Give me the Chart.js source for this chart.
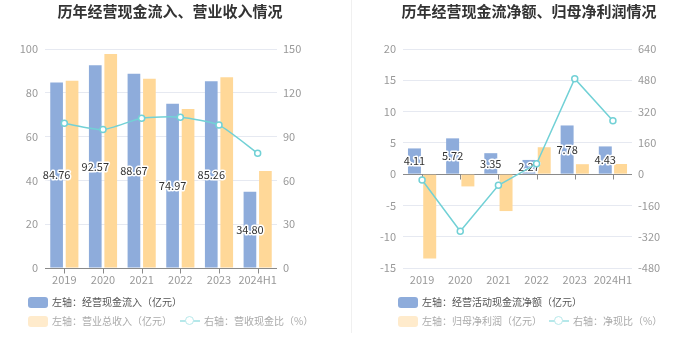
<!DOCTYPE html>
<html>
<head>
<meta charset="utf-8">
<script src="https://cdn.jsdelivr.net/npm/chart.js@4/dist/chart.umd.min.js"></script>
<style>
  body { margin: 0; background: #fff; font-family: 'Noto Sans CJK SC', sans-serif; }
  #wrap { position: relative; width: 699px; height: 359px; overflow: hidden; }
  canvas { position: absolute; top: 0; }
  .title { position: absolute; top: 1px; font-size: 15px; font-weight: bold; color: #333; white-space: nowrap; transform: translateX(-50%); line-height: 20px; }
  .sw { position: absolute; width: 20px; height: 11px; border-radius: 3px; }
  .txt { position: absolute; font-size: 10px; line-height: 14px; white-space: nowrap; }
  .ln { position: absolute; width: 20px; height: 10px; }
  .ln i { position: absolute; left: 0; right: 0; top: 4px; height: 2px; }
  .ln b { position: absolute; left: 5px; top: 0; width: 7px; height: 7px; border-radius: 50%; background: #fff; border-width: 1.5px; border-style: solid; }
  #divider { position: absolute; left: 351px; top: 0; width: 1px; height: 333px; background: #f0f0f0; }
</style>
</head>
<body>
<div id="wrap">
  <canvas id="c1" width="350" height="359" style="left:0"></canvas>
  <canvas id="c2" width="349" height="359" style="left:350px"></canvas>
  <div id="divider"></div>

  <div class="title" style="left:170px">历年经营现金流入、营业收入情况</div>
  <div class="title" style="left:529px">历年经营现金流净额、归母净利润情况</div>

  <!-- left legend -->
  <div class="sw" style="left:28px;top:297px;background:#8EACDB"></div>
  <div class="txt" style="left:52px;top:295px;color:#555">左轴：经营现金流入（亿元）</div>
  <div class="sw" style="left:28px;top:316px;background:#FFEBCC"></div>
  <div class="txt" style="left:52px;top:314px;color:#aaa">左轴：营业总收入（亿元）</div>
  <div class="ln" style="left:180px;top:316px"><i style="background:#B6E8EA"></i><b style="border-color:#B6E8EA"></b></div>
  <div class="txt" style="left:204px;top:314px;color:#aaa">右轴：营收现金比（%）</div>

  <!-- right legend -->
  <div class="sw" style="left:398px;top:297px;background:#8EACDB"></div>
  <div class="txt" style="left:422px;top:295px;color:#555">左轴：经营活动现金流净额（亿元）</div>
  <div class="sw" style="left:398px;top:316px;background:#FFEBCC"></div>
  <div class="txt" style="left:422px;top:314px;color:#aaa">左轴：归母净利润（亿元）</div>
  <div class="ln" style="left:549px;top:316px"><i style="background:#B6E8EA"></i><b style="border-color:#B6E8EA"></b></div>
  <div class="txt" style="left:573px;top:314px;color:#aaa">右轴：净现比（%）</div>
</div>

<script>
// data
const years = ['2019', '2020', '2021', '2022', '2023', '2024H1'];

const cashIn = [84.76, 92.57, 88.67, 74.97, 85.26, 34.80];
const revenue = [85.5, 97.7, 86.4, 72.6, 87.1, 44.3];
const cashRevRatio = [99.1, 94.8, 102.6, 103.3, 97.9, 78.6];

const netCash = [4.11, 5.72, 3.35, 2.27, 7.78, 4.43];
const netProfit = [-13.5, -1.96, -5.9, 4.3, 1.59, 1.62];
const netCashRatio = [-30, -292, -57, 52.8, 488, 273];

const BLUE = '#8EACDB';
const ORANGE = '#FFD898';
const TEAL = '#72D1D6';
const GRID = '#E6E9F1';
const TICK = '#999';

Chart.defaults.font.family = "'Noto Sans CJK SC', sans-serif";
Chart.defaults.font.size = 11;
Chart.defaults.color = TICK;

// value labels in the middle of the first bar series
const barLabels = {
  id: 'barLabels',
  afterDatasetDraw(chart, args) {
    if (args.index !== 0) return;
    const ctx = chart.ctx;
    ctx.save();
    ctx.font = "11px 'Noto Sans CJK SC', sans-serif";
    ctx.textAlign = 'center';
    ctx.textBaseline = 'middle';
    ctx.lineJoin = 'round';
    args.meta.data.forEach((el, i) => {
      const txt = chart.data.datasets[0].data[i].toFixed(2);
      const y = (el.y + el.base) / 2;
      ctx.lineWidth = 3;
      ctx.strokeStyle = '#fff';
      ctx.strokeText(txt, el.x, y);
      ctx.fillStyle = '#333';
      ctx.fillText(txt, el.x, y);
    });
    ctx.restore();
  }
};

// x axis line at zero with small ticks under each category
const zeroAxis = {
  id: 'zeroAxis',
  beforeDatasetsDraw(chart) {
    const ctx = chart.ctx;
    const area = chart.chartArea;
    const y = Math.round(chart.scales.y.getPixelForValue(0)) + 0.5;
    ctx.save();
    ctx.strokeStyle = '#8a8a8a';
    ctx.lineWidth = 1;
    ctx.beginPath();
    ctx.moveTo(area.left, y);
    ctx.lineTo(area.right, y);
    years.forEach((_, i) => {
      const x = Math.round(chart.scales.x.getPixelForValue(i)) + 0.5;
      ctx.moveTo(x, y);
      ctx.lineTo(x, y + 5);
    });
    ctx.stroke();
    ctx.restore();
  }
};

function makeChart(id, bars1, bars2, ratio, yOpt, y1Opt, widths, tension, barPct) {
  return new Chart(document.getElementById(id), {
    type: 'bar',
    data: {
      labels: years,
      datasets: [
        { data: bars1, backgroundColor: BLUE, yAxisID: 'y', order: 1, categoryPercentage: 0.8, barPercentage: barPct },
        { data: bars2, backgroundColor: ORANGE, yAxisID: 'y', order: 1, categoryPercentage: 0.8, barPercentage: barPct },
        {
          type: 'line', data: ratio, yAxisID: 'y1', order: 0,
          borderColor: TEAL, borderWidth: 1.5, tension: tension,
          pointRadius: 3, pointBorderWidth: 1.5, pointBackgroundColor: '#fff', pointBorderColor: TEAL
        }
      ]
    },
    options: {
      responsive: false,
      animation: false,
      layout: { padding: { top: 49, bottom: 60, left: 0, right: 0 } },
      plugins: { legend: { display: false }, tooltip: { enabled: false } },
      scales: {
        x: {
          grid: { display: false, drawTicks: false },
          border: { display: false },
          ticks: { padding: 5, color: TICK, autoSkip: false, maxRotation: 0 },
          afterFit(s) { s.height = 31; }
        },
        y: {
          position: 'left',
          min: yOpt.min, max: yOpt.max,
          grid: { color: GRID, drawTicks: false },
          border: { display: false },
          ticks: { stepSize: yOpt.step, padding: 7, color: TICK },
          afterFit(s) { s.width = widths[0]; }
        },
        y1: {
          position: 'right',
          min: y1Opt.min, max: y1Opt.max,
          grid: { display: false, drawTicks: false },
          border: { display: false },
          ticks: { stepSize: y1Opt.step, padding: 6, color: TICK },
          afterFit(s) { s.width = widths[1]; }
        }
      }
    },
    plugins: [barLabels, zeroAxis]
  });
}

makeChart('c1', cashIn, revenue, cashRevRatio,
  { min: 0, max: 100, step: 20 }, { min: 0, max: 150, step: 30 }, [45, 73], 0.2, 0.82);

makeChart('c2', netCash, netProfit, netCashRatio,
  { min: -15, max: 20, step: 5 }, { min: -480, max: 640, step: 160 }, [53, 67], 0, 0.85);
</script>
</body>
</html>
